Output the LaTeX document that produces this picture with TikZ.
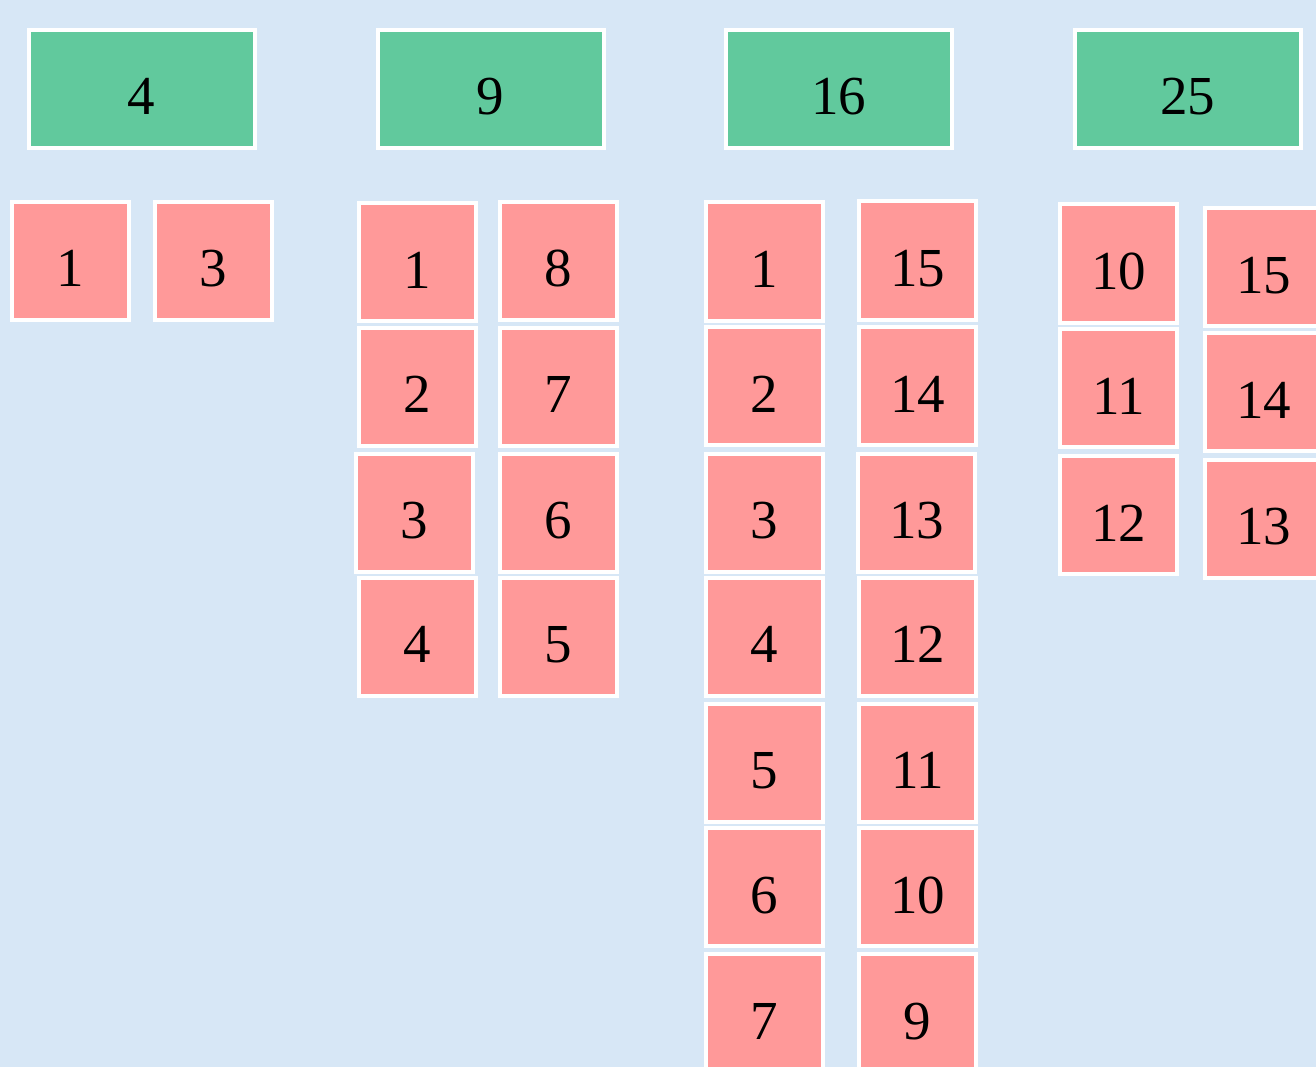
\documentclass[tikz,border=0pt]{standalone}
\usepackage{fontspec}
\setmainfont{Liberation Serif}
\definecolor{bgc}{HTML}{D7E7F6}
\definecolor{pinkc}{HTML}{FF9999}
\definecolor{greenc}{HTML}{61C99D}
\tikzset{
  base/.style={draw=white, line width=4pt, inner sep=0pt, text=black,
    font=\fontsize{55}{60}\selectfont, text height=52pt, text depth=0pt},
  cell/.style={base, fill=pinkc, minimum width=117pt, minimum height=118pt},
  head/.style={base, fill=greenc, minimum width=226pt, minimum height=118pt}
}
\begin{document}
\begin{tikzpicture}[x=1pt,y=-1pt]
\useasboundingbox (0,0) rectangle (1316,1067);
\clip (0,0) rectangle (1316,1067);
\fill[bgc] (0,0) rectangle (1316,1067);
% headers
\node[head] (g4) at (141.5,89) {4};
\node[head] (g9) at (490.5,89) {9};
\node[head] (g16) at (838.5,89) {16};
\node[head] (g25) at (1187.5,89) {25};
% column 4
\node[cell] (a1) at (70.5,261) {1};
\node[cell] (a3) at (213,261) {3};
% column 9
\node[cell] (b1) at (417.5,262) {1};
\node[cell] (b2) at (417,386.5) {2};
\node[cell] (b3) at (414,512.5) {3};
\node[cell] (b4) at (417,636.5) {4};
\node[cell] (b8) at (558.5,261) {8};
\node[cell] (b7) at (558.5,386.5) {7};
\node[cell] (b6) at (558.5,512.5) {6};
\node[cell] (b5) at (558.5,636.5) {5};
% column 16
\node[cell] (c1) at (764,261.5) {1};
\node[cell] (c2) at (764,386) {2};
\node[cell] (c3) at (764,512.5) {3};
\node[cell] (c4) at (764,636.5) {4};
\node[cell] (c5) at (764,762.5) {5};
\node[cell] (c6) at (764,887) {6};
\node[cell] (c7) at (764,1013) {7};
\node[cell] (c15) at (917.5,260.5) {15};
\node[cell] (c14) at (917.5,386) {14};
\node[cell] (c13) at (916.5,512.5) {13};
\node[cell] (c12) at (917.5,636.5) {12};
\node[cell] (c11) at (917.5,762.5) {11};
\node[cell] (c10) at (917.5,887) {10};
\node[cell] (c9) at (917.5,1013) {9};
% column 25
\node[cell] (d10) at (1118.5,263.5) {10};
\node[cell] (d11) at (1118.5,388) {11};
\node[cell] (d12) at (1118.5,515) {12};
\node[cell] (d15) at (1263.5,267) {15};
\node[cell] (d14) at (1263.5,392) {14};
\node[cell] (d13) at (1263.5,518.5) {13};
\end{tikzpicture}
\end{document}
